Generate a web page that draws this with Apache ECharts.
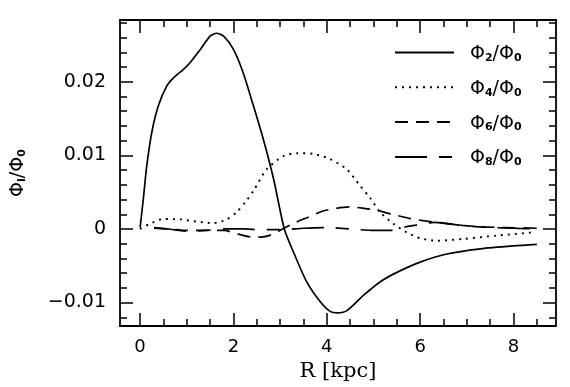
<!DOCTYPE html>
<html>
<head>
<meta charset="utf-8">
<script src="https://cdn.jsdelivr.net/npm/echarts@6/dist/echarts.min.js"></script>
<style>html,body{margin:0;padding:0;background:#fff;}#c{width:570px;height:387px;}</style>
</head>
<body>
<div id="c"></div>
<script>
// ---- data ----
var r2   = [0.00, 0.07, 0.14, 0.25, 0.39, 0.57, 0.71, 0.93, 1.07, 1.29, 1.50, 1.64, 1.79, 2.00, 2.21, 2.43, 2.64, 2.86, 3.09, 3.29, 3.57, 3.86, 4.07, 4.23, 4.43, 4.79, 5.14, 5.50, 6.00, 6.57, 7.29, 8.00, 8.50];
var phi2 = [0.0002, 0.0041, 0.0084, 0.0131, 0.0167, 0.0194, 0.0205, 0.0217, 0.0226, 0.0244, 0.0262, 0.0266, 0.0262, 0.0244, 0.0212, 0.0167, 0.0122, 0.0068, 0.0000, -0.0032, -0.0072, -0.0099, -0.0112, -0.0114, -0.0111, -0.0090, -0.0072, -0.0059, -0.0045, -0.0034, -0.0027, -0.0023, -0.0021];

var r4   = [0.00, 0.21, 0.50, 0.86, 1.21, 1.57, 1.86, 2.07, 2.25, 2.43, 2.71, 3.07, 3.36, 3.71, 4.07, 4.43, 4.71, 4.93, 5.14, 5.43, 5.71, 6.00, 6.36, 6.93, 7.64, 8.46];
var phi4 = [0.0000, 0.0007, 0.00135, 0.0013, 0.0010, 0.0008, 0.0013, 0.0023, 0.0036, 0.0052, 0.0081, 0.0099, 0.0103, 0.0102, 0.0095, 0.0081, 0.0059, 0.0042, 0.0023, 0.0007, -0.00045, -0.00126, -0.0016, -0.00135, -0.0009, -0.00045];

var r6   = [0.30, 0.60, 1.00, 1.40, 1.80, 2.10, 2.40, 2.60, 2.85, 3.05, 3.30, 3.60, 3.90, 4.20, 4.50, 4.80, 5.10, 5.40, 5.80, 6.10, 6.50, 6.90, 7.30, 7.80, 8.50];
var phi6 = [0.0001, 0.0000, -0.0002, -0.0002, -0.0002, -0.0007, -0.0011, -0.0011, -0.0007, 0.0000, 0.0008, 0.0016, 0.0024, 0.0028, 0.0030, 0.0028, 0.0025, 0.0020, 0.0014, 0.0011, 0.0008, 0.0005, 0.0003, 0.0002, 0.0001];

var r8   = [0.30, 0.60, 1.00, 1.40, 1.80, 2.20, 2.60, 3.00, 3.50, 4.00, 4.50, 5.00, 5.40, 5.70, 6.00, 6.30, 6.60, 7.00, 7.50, 8.00, 8.50];
var phi8 = [0.0002, 0.0000, -0.0003, -0.0002, 0.0000, 0.0000, -0.0001, -0.0001, 0.0001, 0.0002, 0.0000, -0.0002, -0.0002, 0.0003, 0.0006, 0.0009, 0.0007, 0.0004, 0.0002, 0.0001, 0.0000];

var seriesNames = ['Φ2/Φ0', 'Φ4/Φ0', 'Φ6/Φ0', 'Φ8/Φ0'];
var seriesSubs  = ['2', '4', '6', '8'];

var xMajorTicks = [0, 2, 4, 6, 8];
var xMinorTicks = [0, 0.5, 1, 1.5, 2, 2.5, 3, 3.5, 4, 4.5, 5, 5.5, 6, 6.5, 7, 7.5, 8, 8.5];
var yMajorTicks = [-0.01, 0, 0.01, 0.02];
var yMinorTicks = [-0.012, -0.010, -0.008, -0.006, -0.004, -0.002, 0, 0.002, 0.004, 0.006, 0.008, 0.010, 0.012, 0.014, 0.016, 0.018, 0.020, 0.022, 0.024, 0.026, 0.028];
var yTickLabels = ['−0.01', '0', '0.01', '0.02'];

// ---- chart ----
function zip(a, b) { return a.map(function (v, i) { return [v, b[i]]; }); }

var FONT = 'DejaVu Sans';
var X_MIN = -0.43, X_MAX = 8.91, Y_MIN = -0.0132, Y_MAX = 0.0284;
var lineBase = { show: true, onZero: false, lineStyle: { color: '#000', width: 1.8 } };

function xAx(pos, major, labels) {
  return {
    type: 'value', position: pos, min: X_MIN, max: X_MAX,
    splitLine: { show: false },
    axisLine: major ? lineBase : { show: false, onZero: false },
    axisTick: { show: true, inside: true, length: major ? 13 : 7,
      customValues: major ? xMajorTicks : xMinorTicks,
      lineStyle: { color: '#000', width: 1.5 } },
    axisLabel: labels ? { show: true, customValues: xMajorTicks, margin: 12,
      fontFamily: FONT, fontSize: 18, color: '#000' } : { show: false }
  };
}
function yAx(pos, major, labels) {
  return {
    type: 'value', position: pos, min: Y_MIN, max: Y_MAX,
    splitLine: { show: false },
    axisLine: major ? lineBase : { show: false, onZero: false },
    axisTick: { show: true, inside: true, length: major ? 13 : 7,
      customValues: major ? yMajorTicks : yMinorTicks,
      lineStyle: { color: '#000', width: 1.5 } },
    axisLabel: labels ? { show: true, customValues: yMajorTicks, margin: 14,
      fontFamily: FONT, fontSize: 19, color: '#000',
      formatter: function (v) {
        var i = yMajorTicks.findIndex(function (t) { return Math.abs(t - v) < 1e-9; });
        return i >= 0 ? yTickLabels[i] : '';
      } } : { show: false }
  };
}

var xAxes = [xAx('bottom', true, true), xAx('bottom', false, false), xAx('top', true, false), xAx('top', false, false)];
xAxes[0].name = 'R [kpc]';
xAxes[0].nameLocation = 'middle';
xAxes[0].nameGap = 33;
xAxes[0].nameTextStyle = { fontFamily: 'DejaVu Serif', fontSize: 21, color: '#000' };

var yAxes = [yAx('left', true, true), yAx('left', false, false), yAx('right', true, false), yAx('right', false, false)];
yAxes[0].name = '{m|Φ}{s|l}{m|/Φ}{s|0}';
yAxes[0].nameLocation = 'middle';
yAxes[0].nameRotate = 90;
yAxes[0].nameGap = 92;
yAxes[0].nameTextStyle = {
  color: '#000',
  rich: {
    m: { fontFamily: FONT, fontSize: 19, color: '#000', verticalAlign: 'bottom', lineHeight: 22 },
    s: { fontFamily: FONT, fontSize: 11, fontWeight: 'bold', color: '#000', verticalAlign: 'bottom', lineHeight: 11 }
  }
};

var dashTypes = ['solid', [2, 5], [13, 8], [32, 12, 13, 12]];
var datas = [zip(r2, phi2), zip(r4, phi4), zip(r6, phi6), zip(r8, phi8)];

var series = seriesNames.map(function (n, i) {
  return {
    name: n, type: 'line', xAxisIndex: 0, yAxisIndex: 0,
    data: datas[i], showSymbol: false, symbol: 'none', smooth: 0.25,
    lineStyle: { color: '#000', width: i === 1 ? 1.9 : 1.7, type: dashTypes[i] },
    itemStyle: { color: '#000' },
    emphasis: { disabled: true }, animation: false
  };
});

var chart = echarts.init(document.getElementById('c'), null, { renderer: 'canvas' });
chart.setOption({
  backgroundColor: '#fff',
  animation: false,
  grid: { left: 120, right: 14, top: 20, bottom: 59, containLabel: false },
  xAxis: xAxes,
  yAxis: yAxes,
  legend: {
    orient: 'vertical', left: 394, top: 44.5, padding: 0,
    itemWidth: 59, itemHeight: 20, itemGap: 15.8,
    selectedMode: false,
    data: seriesNames,
    itemStyle: { color: 'rgba(0,0,0,0)', borderColor: 'rgba(0,0,0,0)', borderWidth: 0 },
    formatter: function (name) {
      var i = seriesNames.indexOf(name);
      return '{g|}{m|Φ}{s|' + seriesSubs[i] + '}{m|/Φ}{s|0}';
    },
    textStyle: {
      color: '#000',
      rich: {
        g: { width: 11 },
        m: { fontFamily: FONT, fontSize: 19, color: '#000', verticalAlign: 'bottom', lineHeight: 22 },
        s: { fontFamily: FONT, fontSize: 11, fontWeight: 'bold', color: '#000', verticalAlign: 'bottom', lineHeight: 11 }
      }
    }
  },
  series: series
});
</script>
</body>
</html>
